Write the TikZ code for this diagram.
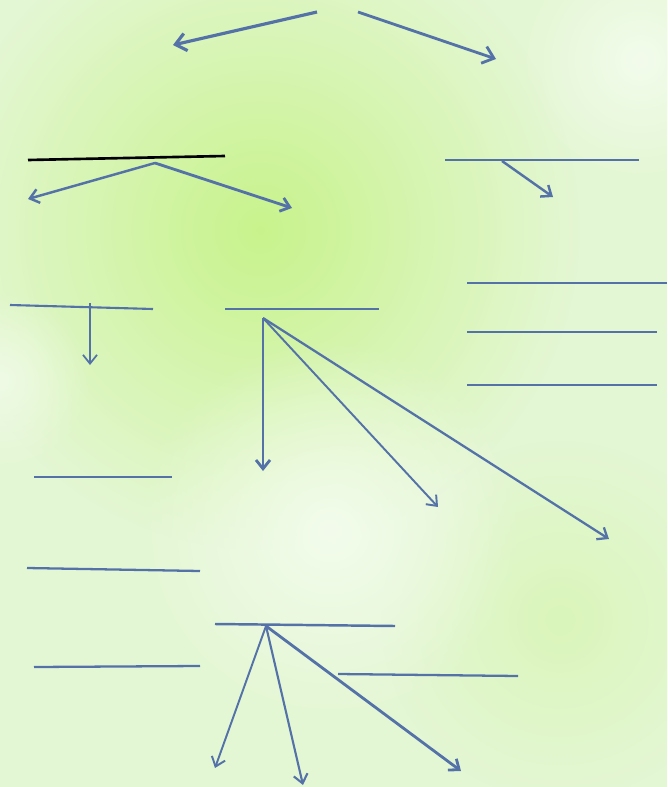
\documentclass[tikz,border=0pt]{standalone}
\usetikzlibrary{arrows.meta,fadings}
\definecolor{bgpale}{RGB}{228,247,212}
\definecolor{bgspot}{RGB}{200,243,140}
\definecolor{bglight}{RGB}{243,252,236}
\definecolor{inkblue}{RGB}{84,114,168}
\tikzfading[name=spotfade,inner color=transparent!0,outer color=transparent!100]

\begin{document}
\begin{tikzpicture}[x=0.02cm,y=-0.02cm]
\useasboundingbox (0,0) rectangle (667,787);
% background
\fill[bgpale] (0,0) rectangle (667,787);
\fill[bgspot,path fading=spotfade] (260,230) circle (320);
\fill[bgspot,opacity=.35,path fading=spotfade] (560,620) circle (180);
\fill[bglight,path fading=spotfade] (330,530) circle (190);
\fill[bglight,opacity=.8,path fading=spotfade] (0,380) circle (90);
\fill[bglight,path fading=spotfade] (640,60) circle (120);
% points
\coordinate (t1) at (317,12);
\coordinate (t2) at (358,12);
\coordinate (a1) at (173,45);
\coordinate (a2) at (496,59);
\coordinate (l1a) at (28,160);
\coordinate (l1b) at (225,156);
\coordinate (l1m) at (155,163);
\coordinate (b1) at (28,199);
\coordinate (b2) at (292,208);
\coordinate (r1a) at (445,160);
\coordinate (r1b) at (639,160);
\coordinate (r1m) at (502,161);
\coordinate (b3) at (553,197);
\coordinate (l2a) at (10,305);
\coordinate (l2b) at (153,309);
\coordinate (l2m) at (90,303);
\coordinate (b4) at (90,365);
\coordinate (m1a) at (225,309);
\coordinate (m1b) at (379,309);
\coordinate (m1m) at (263,318);
\coordinate (c1) at (263,471);
\coordinate (c2) at (438,507);
\coordinate (c3) at (609,539);
\coordinate (s1a) at (467,283);
\coordinate (s1b) at (667,283);
\coordinate (s2a) at (467,332);
\coordinate (s2b) at (657,332);
\coordinate (s3a) at (467,385);
\coordinate (s3b) at (657,385);
\coordinate (u1a) at (34,477);
\coordinate (u1b) at (172,477);
\coordinate (u2a) at (27,568);
\coordinate (u2b) at (200,571);
\coordinate (m2a) at (215,624);
\coordinate (m2b) at (395,626);
\coordinate (m2m) at (266,626);
\coordinate (d1) at (215,768);
\coordinate (d2) at (303,785);
\coordinate (d3) at (461,771);
\coordinate (u3a) at (34,667);
\coordinate (u3b) at (200,666);
\coordinate (u4a) at (338,674);
\coordinate (u4b) at (518,676);
% lines
\draw[inkblue,line width=1.3pt] (r1a) -- (r1b);
\draw[black,line width=1.5pt] (l1a) -- (l1b);
\draw[inkblue,line width=1.2pt] (l2a) -- (l2b);
\draw[inkblue,line width=1.3pt] (m1a) -- (m1b);
\draw[inkblue,line width=1.3pt] (s1a) -- (s1b);
\draw[inkblue,line width=1.3pt] (s2a) -- (s2b);
\draw[inkblue,line width=1.3pt] (s3a) -- (s3b);
\draw[inkblue,line width=1.5pt] (u1a) -- (u1b);
\draw[inkblue,line width=1.3pt] (u2a) -- (u2b);
\draw[inkblue,line width=1.4pt] (m2a) -- (m2b);
\draw[inkblue,line width=1.3pt] (u3a) -- (u3b);
\draw[inkblue,line width=1.3pt] (u4a) -- (u4b);
% arrows
\draw[-{Straight Barb[length=6pt,width=10pt]},inkblue,line width=1.8pt] (t1) -- (a1);
\draw[-{Straight Barb[length=6pt,width=10pt]},inkblue,line width=1.6pt] (t2) -- (a2);
\draw[-{Straight Barb[length=5pt,width=8pt]},inkblue,line width=1.4pt] (l1m) -- (b1);
\draw[-{Straight Barb[length=5pt,width=8pt]},inkblue,line width=1.6pt] (l1m) -- (b2);
\draw[-{Straight Barb[length=5pt,width=8pt]},inkblue,line width=1.4pt] (r1m) -- (b3);
\draw[-{Straight Barb[length=5pt,width=8pt]},inkblue,line width=1pt] (l2m) -- (b4);
\draw[-{Straight Barb[length=5pt,width=8pt]},inkblue,line width=1.6pt] (m1m) -- (c1);
\draw[-{Straight Barb[length=5pt,width=8pt]},inkblue,line width=1.1pt] (m1m) -- (c2);
\draw[-{Straight Barb[length=5pt,width=8pt]},inkblue,line width=1.3pt] (m1m) -- (c3);
\draw[-{Straight Barb[length=5pt,width=8pt]},inkblue,line width=1.1pt] (m2m) -- (d1);
\draw[-{Straight Barb[length=5pt,width=8pt]},inkblue,line width=1.2pt] (m2m) -- (d2);
\draw[-{Straight Barb[length=5pt,width=8pt]},inkblue,line width=1.6pt] (m2m) -- (d3);
\end{tikzpicture}
\end{document}
